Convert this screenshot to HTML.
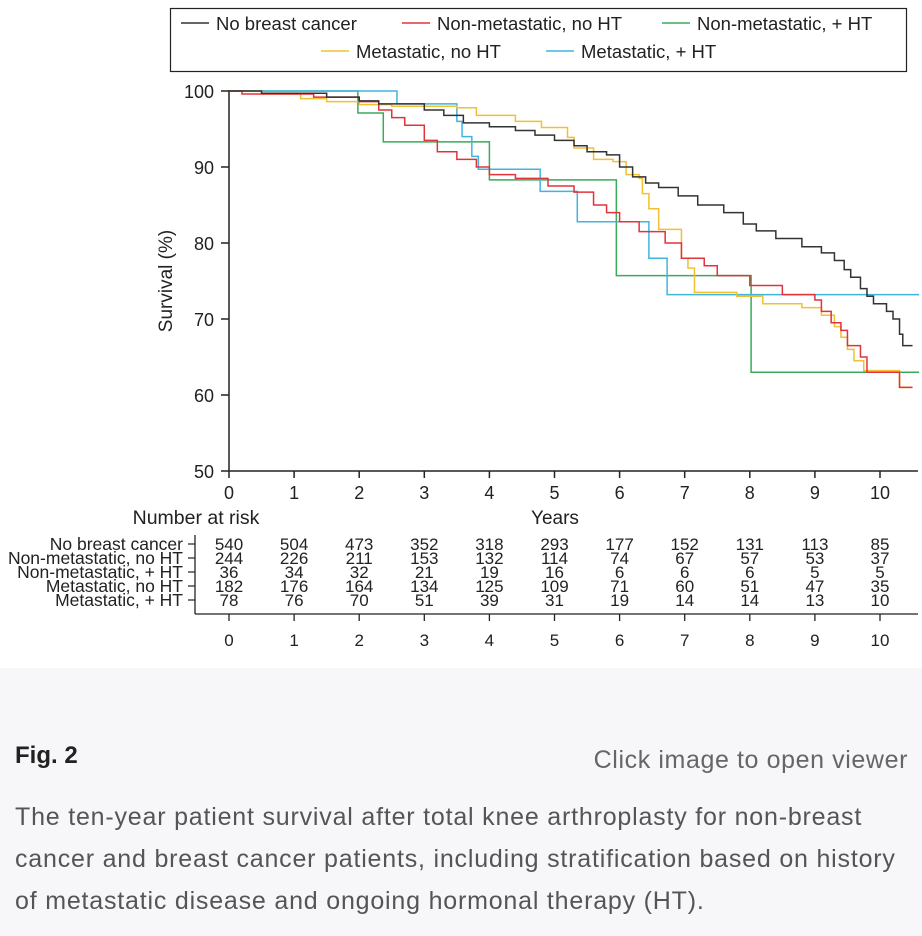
<!DOCTYPE html>
<html><head><meta charset="utf-8"><style>
body{margin:0;width:922px;height:936px;background:#fff;overflow:hidden;font-family:"Liberation Sans",sans-serif}
#cap{position:absolute;left:0;top:668px;width:922px;height:268px;background:#f7f6f8}
</style></head><body>
<svg id="chart" width="922" height="668" style="position:absolute;left:0;top:0" font-family="Liberation Sans, sans-serif"></svg>
<div id="cap">
<div style="position:absolute;left:15px;top:74px;font-size:24px;font-weight:bold;color:#222">Fig. 2</div>
<div style="position:absolute;right:14px;top:78px;font-size:25px;letter-spacing:0.6px;color:#666">Click image to open viewer</div>
<div style="position:absolute;left:15px;top:128px;width:907px;white-space:nowrap;font-size:25px;letter-spacing:0.8px;line-height:42px;color:#555">The ten-year patient survival after total knee arthroplasty for non-breast<br>cancer and breast cancer patients, including stratification based on history<br>of metastatic disease and ongoing hormonal therapy (HT).</div>
</div>
<script>
const seriesNames=["No breast cancer","Non-metastatic, no HT","Non-metastatic, + HT","Metastatic, no HT","Metastatic, + HT"];
const seriesColors=["#333","#e0343c","#3aaa5c","#f2c033","#3fb5e0"];
const blackT=[0,0.5,1.5,2,2.3,3,3.3,3.6,4,4.4,4.7,5,5.3,5.5,5.8,6,6.2,6.4,6.6,6.9,7.2,7.6,7.9,8.1,8.4,8.8,9.1,9.3,9.45,9.55,9.7,9.8,9.9,10.1,10.2,10.3,10.35,10.5];
const blackV=[100,99.7,99.2,98.7,98.3,97.5,96.8,95.8,95.3,94.8,94.2,93.5,92.8,92,91.6,90,88.7,87.9,87.3,86.2,85,84,82.5,81.6,80.6,79.5,78.7,77.7,76.5,75.5,74,73,72,71,70,68,66.5,66.5];
const redT=[0,0.2,1.3,2.0,2.3,2.5,2.7,3.0,3.2,3.5,3.8,4.0,4.4,4.9,5.3,5.6,5.8,6.0,6.3,6.7,6.95,7.3,7.5,8.0,8.5,9.0,9.1,9.25,9.4,9.5,9.7,9.8,10.3,10.5];
const redV=[100,99.6,99.2,98.6,97.5,96.5,95.5,93.5,92,91,90,89,88.5,87.5,86.7,85,84,82.8,81.5,80,78,77,75.7,74.4,73.2,72.5,71,69.5,68.5,66.5,65,63,61,61];
const greenT=[0,1.98,2.37,4.0,5.95,8.02,10.6];
const greenV=[100,97.1,93.3,88.3,75.7,63,63];
const yellowT=[0,0.5,1.1,1.5,2,2.5,3.5,3.8,4.4,4.8,5.2,5.3,5.6,5.9,6.1,6.3,6.35,6.45,6.6,6.95,7.05,7.15,7.8,8.2,8.8,9.1,9.3,9.4,9.5,9.6,9.75,10.3,10.5];
const yellowV=[100,99.6,99,98.6,98.2,98,97.8,96.8,96,95.2,93.9,92.5,91,90.7,89,88.5,86.5,84.5,81.8,78,76.7,73.5,73,72,71.5,70.5,69,67.6,66,64.5,63.2,61,61];
const blueT=[0,2.58,3.5,3.58,3.73,3.83,4.78,5.35,6.45,6.73,10.6];
const blueV=[100,98.3,96,94,91.4,89.7,86.8,82.8,78,73.2,73.2];
const xTicks=[0,1,2,3,4,5,6,7,8,9,10];
const yTicks=[50,60,70,80,90,100];
const riskNoBC=[540,504,473,352,318,293,177,152,131,113,85];
const riskNonMetNoHT=[244,226,211,153,132,114,74,67,57,53,37];
const riskNonMetHT=[36,34,32,21,19,16,6,6,6,5,5];
const riskMetNoHT=[182,176,164,134,125,109,71,60,51,47,35];
const riskMetHT=[78,76,70,51,39,31,19,14,14,13,10];

const svg=document.getElementById('chart');
const NS='http://www.w3.org/2000/svg';
const xs=t=>229+65.1*t, ys=v=>91+(100-v)*7.6;
function mk(tag,attrs,parent){const e=document.createElementNS(NS,tag);for(const k in attrs)e.setAttribute(k,attrs[k]);(parent||svg).appendChild(e);return e;}
function txt(s,x,y,size,anchor,parent){const e=mk('text',{x:x,y:y,'font-size':size,'text-anchor':anchor||'middle',fill:'#222'},parent);e.textContent=s;return e;}
// legend
const lg=mk('g',{});


mk('rect',{x:170.5,y:8.5,width:736,height:63,fill:'#fff',stroke:'#222','stroke-width':1.2},lg);
const legPos=[[181,23],[402,23],[662,23],[321,51],[546,51]];
seriesNames.forEach((n,i)=>{const g=mk('g',{},lg);


const [x,y]=legPos[i];mk('line',{x1:x,x2:x+28,y1:y,y2:y,stroke:seriesColors[i],'stroke-width':1.5},g);txt(n,x+35,y+7,18.5,'start',g);});
// axes
const ax=mk('g',{stroke:'#222','stroke-width':1.5});


mk('line',{x1:229,x2:229,y1:90,y2:471},ax);mk('line',{x1:229,x2:918,y1:471,y2:471},ax);
yTicks.forEach(v=>{mk('line',{x1:221,x2:229,y1:ys(v),y2:ys(v)},ax);const t=txt(v,214,ys(v)+7,18,'end');});
xTicks.forEach(v=>{mk('line',{x1:xs(v),x2:xs(v),y1:471,y2:478},ax);const t=txt(v,xs(v),499,18);});
const yt=txt('Survival (%)',0,0,19);yt.setAttribute('transform','translate(172,281) rotate(-90)');


const xt=txt('Years',555,524,19);


// series
const all=[[blackT,blackV],[redT,redV],[greenT,greenV],[yellowT,yellowV],[blueT,blueV]];
const order=[2,4,3,1,0];
order.forEach(i=>{const [T,V]=all[i];let d='M'+xs(T[0])+','+ys(V[0]);
for(let k=1;k<T.length;k++){d+=' H'+xs(T[k])+' V'+ys(V[k]);}
const p=mk('path',{d:d,fill:'none',stroke:seriesColors[i],'stroke-width':1.5});

});
// risk table
const rt=mk('g',{});


txt('Number at risk',196,524,19.5,'middle',rt);
const risks=[riskNoBC,riskNonMetNoHT,riskNonMetHT,riskMetNoHT,riskMetHT];
const rowY=[544,558,572,586,600];
mk('line',{x1:195,x2:195,y1:535,y2:614,stroke:'#222','stroke-width':1.3},rt);
mk('line',{x1:195,x2:918,y1:614,y2:614,stroke:'#222','stroke-width':1.3},rt);
risks.forEach((r,i)=>{const l=txt(seriesNames[i],183,rowY[i]+6,17.5,'end',rt);

mk('line',{x1:188,x2:195,y1:rowY[i],y2:rowY[i],stroke:'#222','stroke-width':1.2},rt);
r.forEach((n,k)=>{const c=txt(n,xs(xTicks[k]),rowY[i]+6,17,'middle',rt);
});});
xTicks.forEach(v=>{mk('line',{x1:xs(v),x2:xs(v),y1:614,y2:621,stroke:'#222','stroke-width':1.3},rt);txt(v,xs(v),646,17,'middle',rt);});
</script>
</body></html>
